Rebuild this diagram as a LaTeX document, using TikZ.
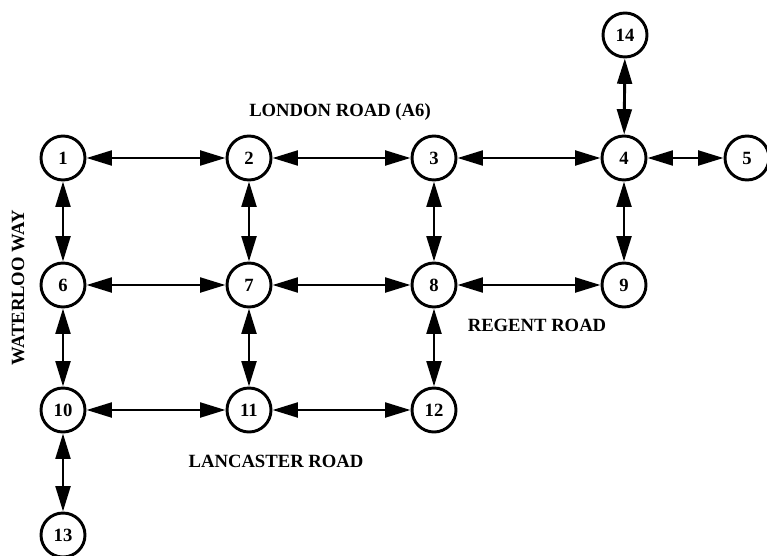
\documentclass[tikz,border=0pt]{standalone}
\usepackage{fontspec}
\setmainfont{Liberation Serif}
\usetikzlibrary{arrows.meta}
\tikzstyle{junction}=[draw,circle,line width=2.2pt,minimum size=33pt,inner sep=0pt,font=\bfseries\fontsize{14}{16}\selectfont]
\tikzstyle{road}=[font=\bfseries\fontsize{14}{16}\selectfont]
\tikzstyle{link}=[line width=2.2pt,{Triangle[length=19pt,width=11pt]}-{Triangle[length=19pt,width=11pt]}]
\begin{document}
\begin{tikzpicture}[x=0.75pt,y=-0.75pt]
\useasboundingbox (0,0) rectangle (767,556);
% junctions
\node [junction] (n1) at (63,158) {1};
\node [junction] (n2) at (249,158) {2};
\node [junction] (n3) at (434,158) {3};
\node [junction] (n4) at (624,158) {4};
\node [junction] (n5) at (747,158) {5};
\node [junction] (n14) at (625,35) {14};
\node [junction] (n6) at (63,285) {6};
\node [junction] (n7) at (249,285) {7};
\node [junction] (n8) at (434,285) {8};
\node [junction] (n9) at (624,285) {9};
\node [junction] (n10) at (63,410) {10};
\node [junction] (n11) at (249,410) {11};
\node [junction] (n12) at (434,410) {12};
\node [junction] (n13) at (63,535) {13};
% road names
\node [road] (london) at (340,112) {LONDON ROAD (A6)};
\node [road] (regent) at (537,325) {REGENT ROAD};
\node [road] (lancaster) at (276,461) {LANCASTER ROAD};
\node [road,rotate=90] (waterloo) at (18,288) {WATERLOO WAY};
% links
\draw [link] (n1) -- (n2);
\draw [link] (n2) -- (n3);
\draw [link] (n3) -- (n4);
\draw [link] (n4) -- (n5);
\draw [link] (n14) -- (n4);
\draw [link] (n1) -- (n6);
\draw [link] (n2) -- (n7);
\draw [link] (n3) -- (n8);
\draw [link] (n4) -- (n9);
\draw [link] (n6) -- (n7);
\draw [link] (n7) -- (n8);
\draw [link] (n8) -- (n9);
\draw [link] (n6) -- (n10);
\draw [link] (n7) -- (n11);
\draw [link] (n8) -- (n12);
\draw [link] (n10) -- (n11);
\draw [link] (n11) -- (n12);
\draw [link] (n10) -- (n13);
\end{tikzpicture}
\end{document}
